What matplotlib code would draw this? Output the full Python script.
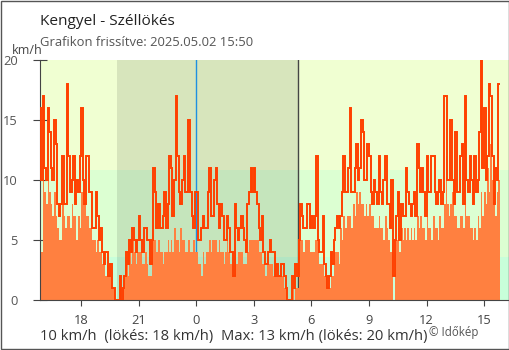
import numpy as np
import matplotlib.pyplot as plt
from matplotlib.patches import Rectangle

plt.rcParams['font.family'] = ['Open Sans', 'DejaVu Sans']

# 5 minute values (km/h), 15:50 previous day -> 15:50, one row per hour
start_hour = 15 + 50 / 60
gust = [
    16, 10,
    17, 11, 10, 16, 14, 11, 10, 15, 13, 8, 7, 8,        # 16
    12, 8, 8, 18, 12, 9, 10, 12, 8, 10, 9, 12,          # 17
    16, 10, 8, 12, 12, 9, 9, 6, 6, 9, 7, 5,             # 18
    6, 4, 3, 4, 4, 2, 3, 1, 1, 0, 0, 0,                 # 19
    2, 0, 1, 2, 4, 3, 5, 4, 6, 5, 4, 5,                 # 20
    7, 5, 4, 6, 6, 5, 5, 3, 5, 11, 9, 6,                # 21
    8, 6, 6, 7, 9, 6, 8, 12, 11, 7, 10, 17,             # 22
    12, 9, 8, 10, 12, 9, 9, 15, 9, 7, 6, 9,             # 23
    9, 5, 5, 6, 7, 6, 6, 9, 11, 7, 7, 10,               # 0
    11, 8, 6, 8, 7, 5, 5, 7, 6, 4, 4, 2,                # 1
    8, 6, 5, 6, 7, 6, 5, 4, 8, 9, 11, 9,                # 2
    11, 9, 8, 6, 5, 7, 4, 3, 3, 4, 5, 4,                # 3
    4, 2, 3, 2, 2, 3, 3, 2, 1, 0, 0, 0,                 # 4
    2, 1, 3, 2, 5, 8, 7, 6, 6, 8, 8, 6,                 # 5
    7, 6, 7, 12, 5, 4, 4, 7, 3, 2, 1, 2,                # 6
    4, 3, 5, 6, 7, 6, 7, 9, 12, 9, 9, 11,               # 7
    16, 9, 9, 11, 13, 10, 11, 15, 14, 10, 10, 13,       # 8
    12, 9, 8, 10, 9, 8, 12, 9, 8, 10, 12, 8,            # 9
    8, 6, 10, 2, 5, 7, 9, 5, 8, 7, 7, 11,               # 10
    9, 8, 7, 8, 9, 7, 13, 11, 9, 11, 9, 7,              # 11
    12, 9, 9, 12, 12, 9, 8, 9, 10, 8, 9, 17,            # 12
    17, 10, 10, 15, 10, 8, 14, 9, 9, 12, 13, 8,         # 13
    17, 10, 9, 12, 10, 8, 12, 9, 10, 14, 20, 11,        # 14
    16, 10, 12, 18, 17, 12, 8, 11, 10, 18,              # 15
]
wind = [
    4, 4,
    10, 9, 8, 10, 9, 8, 7, 9, 7, 6, 5, 5,               # 16
    8, 7, 6, 7, 7, 6, 8, 7, 7, 5, 7, 6,                 # 17
    9, 8, 8, 7, 7, 6, 6, 5, 5, 4, 5, 4,                 # 18
    4, 3, 3, 2, 3, 2, 2, 1, 1, 0, 0, 0,                 # 19
    1, 0, 1, 2, 3, 2, 4, 3, 5, 4, 3, 4,                 # 20
    4, 4, 3, 3, 4, 3, 2, 2, 4, 5, 5, 4,                 # 21
    5, 4, 4, 3, 4, 4, 5, 4, 5, 4, 6, 5,                 # 22
    5, 4, 6, 5, 5, 4, 4, 5, 4, 4, 5, 4,                 # 23
    4, 3, 3, 2, 4, 3, 4, 4, 5, 4, 5, 5,                 # 0
    5, 4, 5, 4, 4, 3, 4, 5, 4, 3, 2, 2,                 # 1
    4, 3, 4, 4, 4, 3, 3, 3, 4, 5, 5, 5,                 # 2
    5, 5, 5, 4, 4, 3, 3, 2, 3, 3, 3, 3,                 # 3
    2, 2, 2, 2, 2, 2, 2, 1, 1, 0, 0, 0,                 # 4
    1, 0, 1, 1, 4, 5, 5, 4, 5, 5, 5, 4,                 # 5
    4, 4, 5, 5, 4, 3, 3, 4, 2, 2, 1, 1,                 # 6
    3, 2, 4, 4, 4, 3, 6, 5, 7, 6, 7, 7,                 # 7
    7, 6, 8, 7, 9, 8, 9, 8, 8, 7, 8, 7,                 # 8
    8, 7, 7, 6, 6, 6, 7, 6, 6, 5, 7, 6,                 # 9
    5, 4, 4, 0, 4, 5, 6, 4, 6, 5, 6, 5,                 # 10
    6, 5, 6, 5, 6, 5, 7, 6, 7, 6, 6, 5,                 # 11
    7, 6, 6, 5, 7, 6, 6, 5, 7, 6, 6, 8,                 # 12
    12, 8, 7, 8, 9, 7, 7, 6, 6, 7, 7, 6,                # 13
    8, 7, 7, 6, 6, 5, 6, 5, 7, 6, 9, 7,                 # 14
    9, 8, 11, 9, 13, 10, 8, 7, 9, 10,                   # 15
]

sunset = 19.88
sunrise = 24 + 5.31
xticks = [18, 21, 24, 27, 30, 33, 36, 39]
xlabels = ['18', '21', '0', '3', '6', '9', '12', '15']
yticks = [0, 5, 10, 15, 20]
bands = [(0, 3.6, '#c8ffda'), (3.6, 10.8, '#dcffd2'), (10.8, 20, '#f0ffd2')]

edges = start_hour + np.arange(len(gust) + 1) / 12

fig = plt.figure(figsize=(5.1, 3.5), dpi=100)
ax = fig.add_axes([40 / 510, 50 / 350, 469 / 510, 240 / 350])

for lo, hi, c in bands:
    ax.axhspan(lo, hi, color=c, lw=0, zorder=0)
ax.axvspan(sunset, sunrise, color='black', alpha=0.1, lw=0, zorder=1)
ax.axvline(24, color='#1e90e0', lw=1, zorder=1.5)
ax.axvline(sunrise, color='#444444', lw=1, zorder=1.5)

ax.stairs(wind, edges, fill=True, color='#ff8040', lw=0, zorder=2)
ax.stairs(gust, edges, baseline=None, color='#ff4000', lw=1.4, zorder=3)

ax.set_xlim(15.85, 40.3)
ax.set_ylim(0, 20)
ax.set_xticks(xticks)
ax.set_xticklabels(xlabels)
ax.set_yticks(yticks)
for s in ['top', 'right']:
    ax.spines[s].set_visible(False)
for s in ['left', 'bottom']:
    ax.spines[s].set_color('#444444')
ax.tick_params(axis='y', direction='inout', length=10, color='#444444',
               labelcolor='#555555', labelsize=9.3, pad=11)
ax.tick_params(axis='x', direction='out', length=4, color='#444444',
               labelcolor='#444444', labelsize=9.3, pad=6)
ax.get_xticklines()[4].set_color('#1e90e0')

fig.text(40 / 510, 1 - 25 / 350, 'Kengyel - Széllökés', fontsize=11.1, color='#222222')
fig.text(40 / 510, 1 - 46 / 350, 'Grafikon frissítve: 2025.05.02 15:50', fontsize=9.4, color='#555555')
fig.text(12 / 510, 1 - 54 / 350, 'km/h', fontsize=9, color='#444444')
fig.text(40 / 510, 1 - 340 / 350, '10 km/h  (lökés: 18 km/h)  Max: 13 km/h (lökés: 20 km/h)',
         fontsize=10.6, color='#333333')
fig.text(429 / 510, 1 - 336 / 350, '© Időkép', fontsize=8.3, color='#555555')

fig.patches.append(Rectangle((0.001, 0.0015), 0.997, 0.996, transform=fig.transFigure,
                             fill=False, edgecolor='#555555', lw=1))

fig.savefig('out.png', dpi=100)
